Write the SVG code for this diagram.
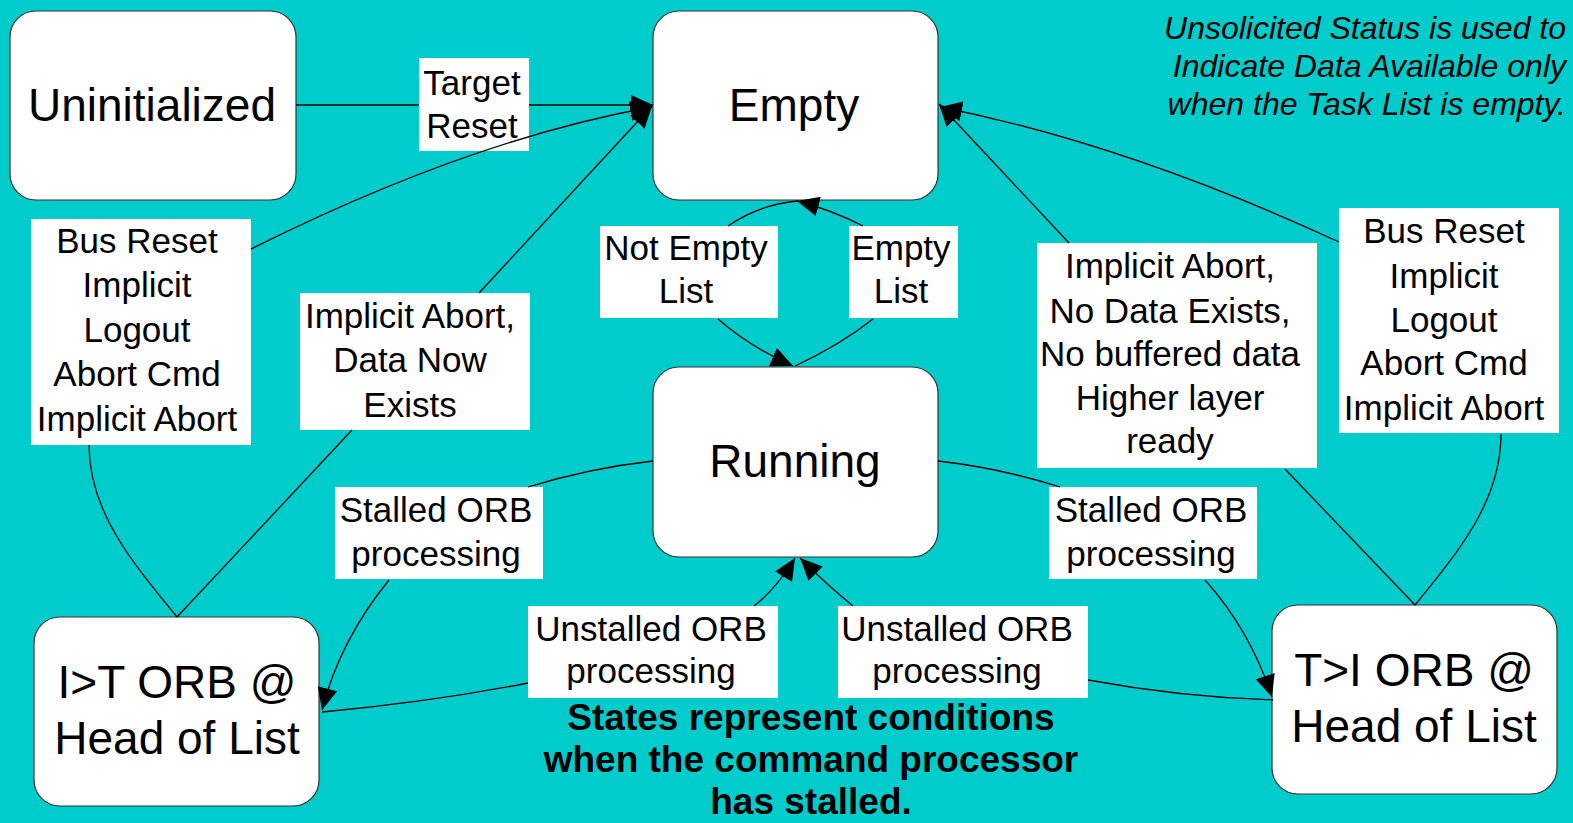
<svg xmlns="http://www.w3.org/2000/svg" width="1573" height="823" viewBox="0 0 1573 823">
<defs>
<style>
.node{fill:#fff;stroke:#333;stroke-width:1.2}
.nt{font-family:"Liberation Sans",Arial,sans-serif;font-size:46px;fill:#000;text-anchor:middle}
.lb{fill:#fff}
.lt{font-family:"Liberation Sans",Arial,sans-serif;font-size:35px;fill:#000;text-anchor:middle}
.c{fill:none;stroke:#000;stroke-width:1.3}
.a{marker-end:url(#ah)}
.note{font-family:"Liberation Sans",Arial,sans-serif;font-size:32px;font-style:italic;fill:#000;text-anchor:end}
.bold{font-family:"Liberation Sans",Arial,sans-serif;font-size:37px;font-weight:bold;fill:#000;text-anchor:middle}
</style>
<marker id="ah" markerUnits="userSpaceOnUse" markerWidth="22" markerHeight="20" refX="22" refY="10" orient="auto">
<path d="M0,0 L22,10 L0,20 z" fill="#000"/>
</marker>
</defs>
<rect width="1573" height="823" fill="#00CCCC"/>

<g id="node-uninitialized"><rect class="node" x="10" y="11" width="286" height="189" rx="26"/><text class="nt" x="152" y="121">Uninitialized</text></g>
<g id="node-empty"><rect class="node" x="653" y="11" width="285" height="189" rx="26"/><text class="nt" x="794" y="121">Empty</text></g>
<g id="node-running"><rect class="node" x="653" y="367" width="285" height="190" rx="26"/><text class="nt" x="795" y="477">Running</text></g>
<g id="node-itorb"><rect class="node" x="34" y="617" width="285" height="189" rx="26"/><text class="nt" x="177" y="698">I&gt;T ORB @</text><text class="nt" x="177" y="754">Head of List</text></g>
<g id="node-tiorb"><rect class="node" x="1272" y="605" width="285" height="189" rx="26"/><text class="nt" x="1414" y="686">T&gt;I ORB @</text><text class="nt" x="1414" y="742">Head of List</text></g>

<g id="labels">
<g id="lbl-target-reset"><rect class="lb" x="419" y="58" width="110" height="93"/><text class="lt" x="472" y="95">Target</text><text class="lt" x="472" y="138">Reset</text></g>
<g id="lbl-busreset-left"><rect class="lb" x="31" y="219" width="220" height="226"/><text class="lt" x="137" y="253">Bus Reset</text><text class="lt" x="137" y="297">Implicit</text><text class="lt" x="137" y="342">Logout</text><text class="lt" x="137" y="386">Abort Cmd</text><text class="lt" x="137" y="431">Implicit Abort</text></g>
<g id="lbl-data-now"><rect class="lb" x="300" y="293" width="230" height="137"/><text class="lt" x="410" y="328">Implicit Abort,</text><text class="lt" x="410" y="372">Data Now</text><text class="lt" x="410" y="417">Exists</text></g>
<g id="lbl-stalled-left"><rect class="lb" x="335" y="487" width="208" height="92"/><text class="lt" x="436" y="522">Stalled ORB</text><text class="lt" x="436" y="566">processing</text></g>
<g id="lbl-not-empty"><rect class="lb" x="600" y="226" width="178" height="92"/><text class="lt" x="686" y="260">Not Empty</text><text class="lt" x="686" y="303">List</text></g>
<g id="lbl-empty-list"><rect class="lb" x="849" y="226" width="109" height="92"/><text class="lt" x="901" y="260">Empty</text><text class="lt" x="901" y="303">List</text></g>
<g id="lbl-no-data"><rect class="lb" x="1037" y="243" width="280" height="225"/><text class="lt" x="1170" y="278">Implicit Abort,</text><text class="lt" x="1170" y="323">No Data Exists,</text><text class="lt" x="1170" y="366">No buffered data</text><text class="lt" x="1170" y="410">Higher layer</text><text class="lt" x="1170" y="453">ready</text></g>
<g id="lbl-busreset-right"><rect class="lb" x="1339" y="208" width="220" height="225"/><text class="lt" x="1444" y="243">Bus Reset</text><text class="lt" x="1444" y="288">Implicit</text><text class="lt" x="1444" y="332">Logout</text><text class="lt" x="1444" y="375">Abort Cmd</text><text class="lt" x="1444" y="420">Implicit Abort</text></g>
<g id="lbl-stalled-right"><rect class="lb" x="1049" y="487" width="208" height="92"/><text class="lt" x="1151" y="522">Stalled ORB</text><text class="lt" x="1151" y="566">processing</text></g>
<g id="lbl-unstalled-left"><rect class="lb" x="528" y="606" width="250" height="92"/><text class="lt" x="651" y="641">Unstalled ORB</text><text class="lt" x="651" y="683">processing</text></g>
<g id="lbl-unstalled-right"><rect class="lb" x="838" y="606" width="250" height="92"/><text class="lt" x="957" y="641">Unstalled ORB</text><text class="lt" x="957" y="683">processing</text></g>
</g>

<g id="connectors">
<path class="c" d="M296,105 L419,105"/>
<path class="c a" d="M529,105 L653,105"/>
<path class="c" d="M177,617 C130,560 89,510 89,445"/>
<path class="c a" d="M251,249 Q469,140 652,107"/>
<path class="c" d="M177,617 L352,430"/>
<path class="c a" d="M479,293 L652,106"/>
<path class="c" d="M728,226 Q758,205 797,201"/>
<path class="c a" d="M718,319 Q750,347 793,366"/>
<path class="c" d="M795,366 Q840,345 873,319"/>
<path class="c a" d="M863,226 Q832,210 797,201"/>
<path class="c" d="M653,461 Q590,468 528,487"/>
<path class="c a" d="M389,580 Q340,640 322,710"/>
<path class="c" d="M322,712 Q430,702 528,683"/>
<path class="c a" d="M754,606 Q776,589 795,558"/>
<path class="c" d="M938,461 Q1000,468 1060,487"/>
<path class="c a" d="M1205,580 Q1250,630 1272,697"/>
<path class="c" d="M1273,700 Q1180,697 1088,680"/>
<path class="c a" d="M853,606 Q826,584 800,558"/>
<path class="c" d="M1415,605 L1285,469"/>
<path class="c a" d="M1069,243 L939,104"/>
<path class="c" d="M1415,605 C1460,550 1501,500 1501,434"/>
<path class="c a" d="M1339,242 Q1127,144 940,107"/>
</g>

<g id="notes">
<text class="note" x="1566" y="39">Unsolicited Status is used to</text>
<text class="note" x="1566" y="77">Indicate Data Available only</text>
<text class="note" x="1566" y="115">when the Task List is empty.</text>
<text class="bold" x="811" y="730">States represent conditions</text>
<text class="bold" x="811" y="772">when the command processor</text>
<text class="bold" x="811" y="814">has stalled.</text>
</g>
</svg>
